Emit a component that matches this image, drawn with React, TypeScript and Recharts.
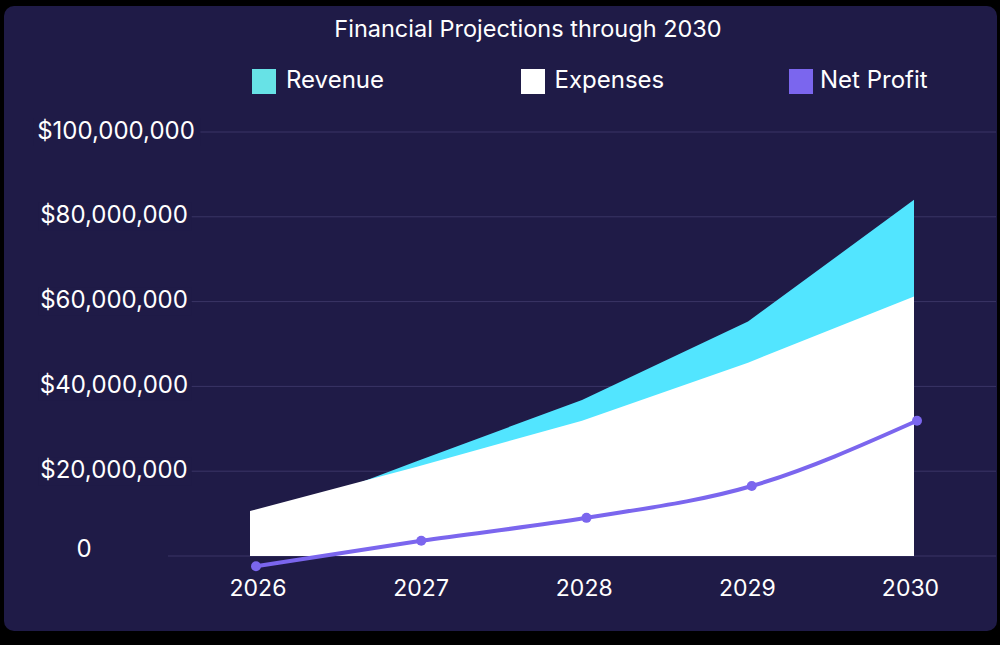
import React from "react";
import {
  ComposedChart,
  Area,
  Line,
  XAxis,
  YAxis,
  CartesianGrid,
  Legend,
} from "recharts";

// ---- data ----
const years = ["2026", "2027", "2028", "2029", "2030"];
const revenue = [7500000, 22300000, 36800000, 55300000, 84000000];
const expenses = [10600000, 21000000, 31900000, 45600000, 61200000];
const netProfit = [-2400000, 3600000, 9000000, 16500000, 31900000];
const yTicks = [0, 20000000, 40000000, 60000000, 80000000, 100000000];
const yDomain = [-5000000, 100000000];

const data = years.map((year, i) => ({
  year,
  revenue: revenue[i],
  expenses: expenses[i],
  netProfit: netProfit[i],
}));

// ---- styles ----
const PAGE = "#000000";
const CARD = "#1f1b47";
const GRID = "#3a3566";
const REVENUE_FILL = "#52e5ff";
const EXPENSES_FILL = "#ffffff";
const PROFIT = "#7b66ee";
const LEGEND_ITEMS = [
  { key: "revenue", label: "Revenue", color: "#67e2e6" },
  { key: "expenses", label: "Expenses", color: "#ffffff" },
  { key: "netProfit", label: "Net Profit", color: "#7b66ee" },
];
const FONT = "Inter, 'Liberation Sans', Arial, sans-serif";

const fmtY = (v: number) =>
  v === 0 ? "0" : "$" + v.toLocaleString("en-US");

const YTick = (props: any) => {
  const { y, payload } = props;
  const label = fmtY(payload.value);
  const isZero = payload.value === 0;
  const cx = isZero ? 84 : label.length > 11 ? 116 : 114;
  const halfW = label.length * 6.7;
  return (
    <g>
      {!isZero && (
        <rect
          x={cx - halfW - 2}
          y={y - 14}
          width={2 * halfW + 6}
          height={28}
          fill={CARD}
        />
      )}
      <text
        x={cx}
        y={y}
        dy={isZero ? -8 : -2}
        textAnchor="middle"
        dominantBaseline="central"
        fill="#ffffff"
        fontSize={24}
        fontFamily={FONT}
      >
        {label}
      </text>
    </g>
  );
};

const XTick = (props: any) => {
  const { x, y, payload } = props;
  return (
    <text
      x={x}
      y={y}
      dy={3}
      textAnchor="middle"
      dominantBaseline="central"
      fill="#ffffff"
      fontSize={23}
      fontFamily={FONT}
    >
      {payload.value}
    </text>
  );
};

const LegendContent = () => (
  <div style={{ position: "relative", width: 700, height: 28 }}>
    {LEGEND_ITEMS.map((item, i) => (
      <div
        key={item.key}
        style={{
          position: "absolute",
          left: i * 268.5,
          top: 0,
          display: "flex",
          alignItems: "center",
          height: 26,
        }}
      >
        <div
          style={{
            width: 24,
            height: 25,
            background: item.color,
            marginRight: i === 2 ? 7 : 10,
          }}
        />
        <span
          style={{
            color: "#ffffff",
            fontSize: 24,
            fontFamily: FONT,
            lineHeight: "24px",
            position: "relative",
            top: -1,
          }}
        >
          {item.label}
        </span>
      </div>
    ))}
  </div>
);

// horizontal grid only at the labelled ticks (linear map of the y domain)
const gridLines = (props: any) => {
  const off = props && props.offset;
  if (!off) return [];
  const [lo, hi] = yDomain;
  return yTicks.map((t) => off.top + ((hi - t) / (hi - lo)) * off.height);
};

export default function App() {
  return (
    <div
      style={{
        position: "fixed",
        left: 0,
        top: 0,
        width: 1000,
        height: 645,
        background: PAGE,
        overflow: "hidden",
      }}
    >
      <div
        style={{
          position: "absolute",
          left: 4,
          top: 6,
          width: 993,
          height: 625,
          borderRadius: 10,
          background: CARD,
        }}
      />
      <div
        style={{
          position: "absolute",
          left: 528,
          top: 17,
          transform: "translateX(-50%)",
          whiteSpace: "nowrap",
          color: "#ffffff",
          fontSize: 23.5,
          lineHeight: "24px",
          fontFamily: FONT,
        }}
      >
        Financial Projections through 2030
      </div>
      <div style={{ position: "absolute", left: 0, top: 0 }}>
        <ComposedChart
          width={1000}
          height={645}
          data={data}
          margin={{ top: 132, right: 4, bottom: 27.8, left: 0 }}
        >
          <CartesianGrid
            vertical={false}
            stroke={GRID}
            strokeWidth={1}
            horizontalCoordinatesGenerator={gridLines}
          />
          <XAxis
            dataKey="year"
            scale="point"
            padding={{ left: 90, right: 85.5 }}
            axisLine={false}
            tickLine={false}
            height={40}
            tick={<XTick />}
            interval={0}
          />
          <XAxis
            xAxisId="area"
            dataKey="year"
            scale="point"
            padding={{ left: 82, right: 82 }}
            hide
          />
          <XAxis
            xAxisId="line"
            dataKey="year"
            scale="point"
            padding={{ left: 88, right: 79 }}
            hide
          />
          <YAxis
            width={168}
            domain={yDomain}
            ticks={yTicks}
            interval={0}
            axisLine={false}
            tickLine={false}
            tick={<YTick />}
          />
          <Legend
            layout="vertical"
            align="center"
            verticalAlign="middle"
            wrapperStyle={{ top: 68, left: 252, width: 700 }}
            content={<LegendContent />}
          />
          <Area
            xAxisId="area"
            type="linear"
            dataKey="revenue"
            name="Revenue"
            fill={REVENUE_FILL}
            fillOpacity={1}
            stroke="none"
            isAnimationActive={false}
          />
          <Area
            xAxisId="area"
            type="linear"
            dataKey="expenses"
            name="Expenses"
            fill={EXPENSES_FILL}
            fillOpacity={1}
            stroke="none"
            isAnimationActive={false}
          />
          <Line
            xAxisId="line"
            type="monotone"
            dataKey="netProfit"
            name="Net Profit"
            stroke={PROFIT}
            strokeWidth={4}
            dot={{ r: 5, fill: PROFIT, stroke: PROFIT, strokeWidth: 0 }}
            activeDot={false}
            isAnimationActive={false}
          />
        </ComposedChart>
      </div>
    </div>
  );
}
